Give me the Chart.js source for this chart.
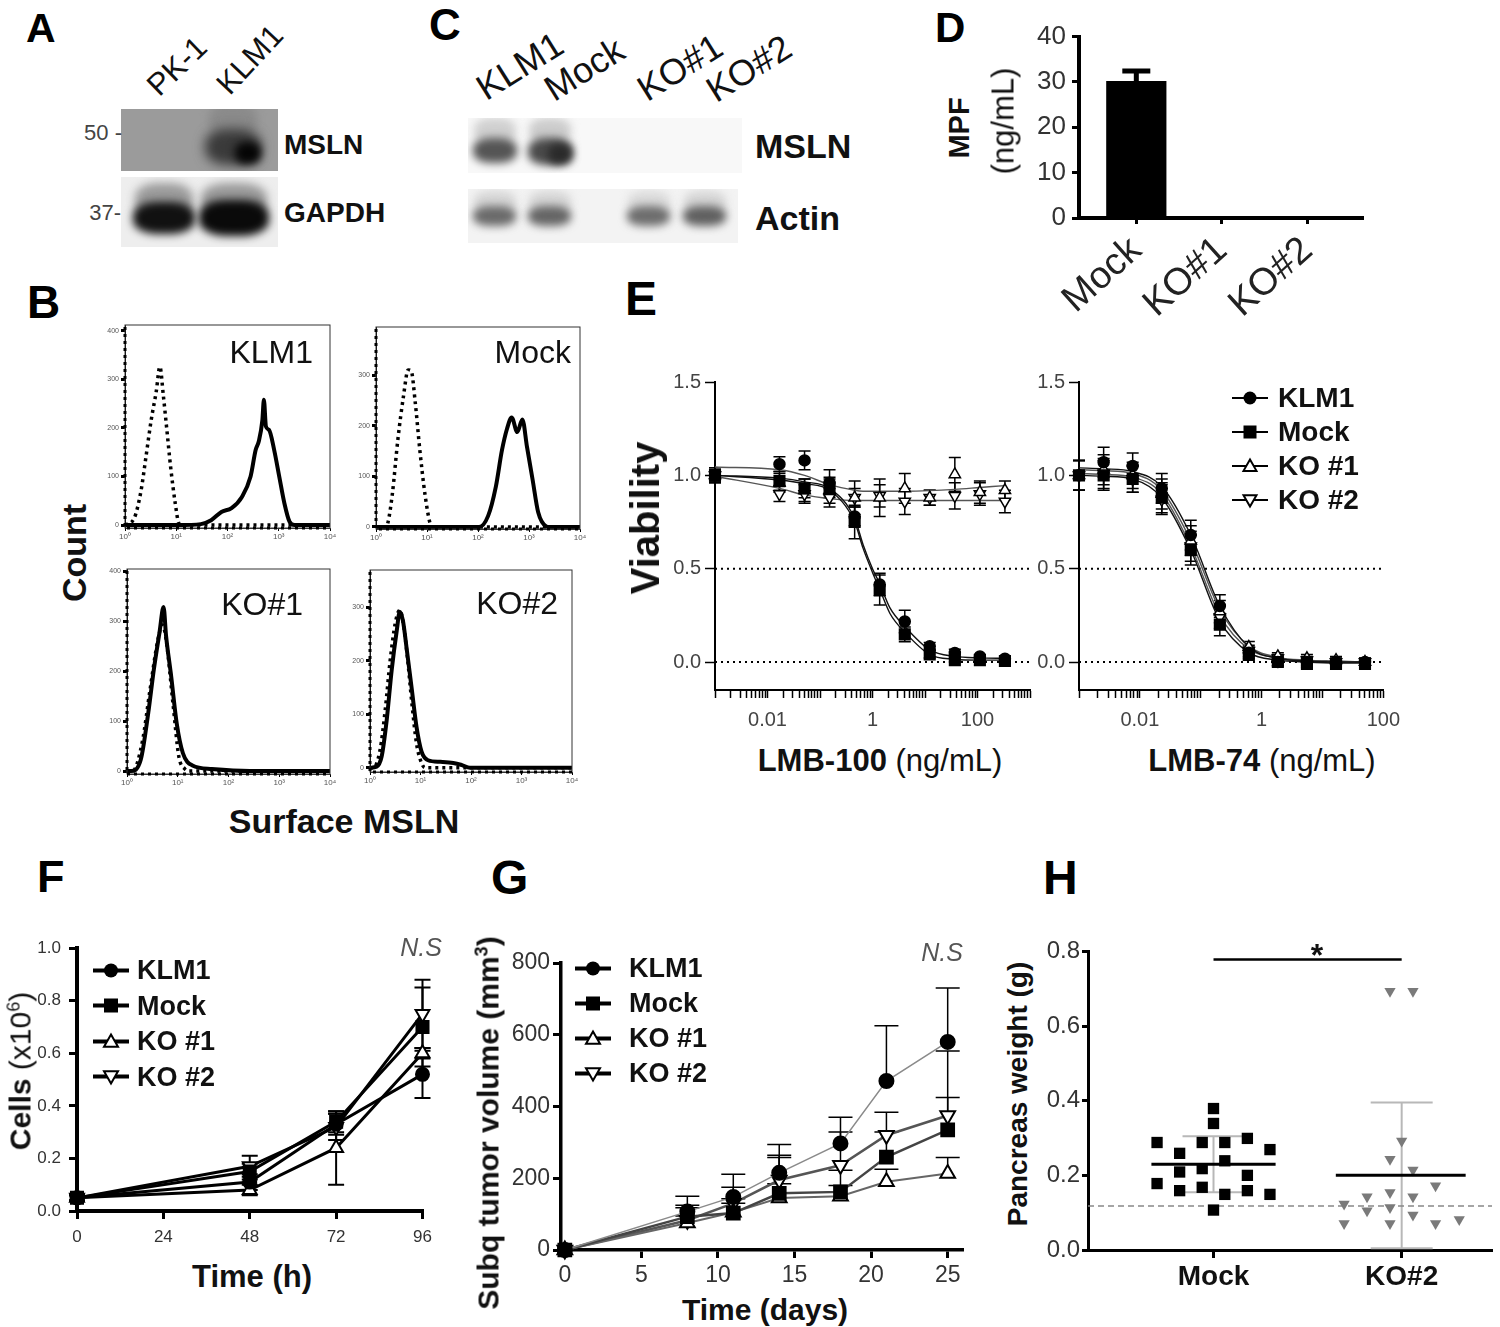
<!DOCTYPE html>
<html>
<head>
<meta charset="utf-8">
<script src="https://cdn.jsdelivr.net/npm/chart.js@4.4.1/dist/chart.umd.min.js"></script>
<style>
  body { margin: 0; background: #fff; }
  #fig { position: relative; width: 1500px; height: 1327px; overflow: hidden; background: #fff;
         font-family: 'Liberation Sans', Arial, Helvetica, sans-serif; color: #111; }
  .t { position: absolute; white-space: nowrap; line-height: 1; }
  .blot { position: absolute; overflow: hidden; }
  .band { position: absolute; border-radius: 40%; }
  canvas { position: absolute; }
</style>
</head>
<body>
<div id="fig">
  <!-- A: western blot -->
  <div class="blot" style="left:121px;top:109px;width:157px;height:62px;background:#9b9b9b">
    <div class="band" style="left:88px;top:-6px;width:48px;height:34px;background:#8a8a8a;filter:blur(5px)"></div>
    <div class="band" style="left:84px;top:20px;width:56px;height:36px;background:#3a3a3a;filter:blur(6px)"></div>
    <div class="band" style="left:114px;top:33px;width:26px;height:22px;background:#050505;filter:blur(4px)"></div>
  </div>
  <div class="blot" style="left:121px;top:177px;width:157px;height:70px;background:#eeeeee">
    <div class="band" style="left:14px;top:6px;width:58px;height:34px;background:#9a9a9a;filter:blur(5px)"></div>
    <div class="band" style="left:12px;top:25px;width:62px;height:32px;background:#111;filter:blur(4px)"></div>
    <div class="band" style="left:80px;top:6px;width:66px;height:34px;background:#999;filter:blur(5px)"></div>
    <div class="band" style="left:78px;top:23px;width:70px;height:36px;background:#0a0a0a;filter:blur(4px)"></div>
  </div>
  <!-- C: western blot -->
  <div class="blot" style="left:468px;top:118px;width:274px;height:55px;background:#f8f8f8">
    <div class="band" style="left:6px;top:0px;width:42px;height:26px;background:#d0d0d0;filter:blur(4px)"></div>
    <div class="band" style="left:5px;top:20px;width:44px;height:25px;background:#555;filter:blur(4px)"></div>
    <div class="band" style="left:61px;top:0px;width:42px;height:26px;background:#cccccc;filter:blur(4px)"></div>
    <div class="band" style="left:60px;top:20px;width:44px;height:27px;background:#4a4a4a;filter:blur(4px)"></div>
    <div class="band" style="left:80px;top:26px;width:24px;height:20px;background:#2a2a2a;filter:blur(4px)"></div>
  </div>
  <div class="blot" style="left:468px;top:189px;width:270px;height:54px;background:#f3f3f3">
    <div class="band" style="left:6px;top:2px;width:42px;height:22px;background:#d5d5d5;filter:blur(4px)"></div>
    <div class="band" style="left:5px;top:17px;width:43px;height:20px;background:#6a6a6a;filter:blur(4px)"></div>
    <div class="band" style="left:61px;top:2px;width:42px;height:22px;background:#d5d5d5;filter:blur(4px)"></div>
    <div class="band" style="left:60px;top:17px;width:43px;height:20px;background:#656565;filter:blur(4px)"></div>
    <div class="band" style="left:160px;top:2px;width:42px;height:22px;background:#dadada;filter:blur(4px)"></div>
    <div class="band" style="left:159px;top:17px;width:43px;height:20px;background:#6d6d6d;filter:blur(4px)"></div>
    <div class="band" style="left:216px;top:2px;width:42px;height:22px;background:#d5d5d5;filter:blur(4px)"></div>
    <div class="band" style="left:215px;top:17px;width:43px;height:20px;background:#606060;filter:blur(4px)"></div>
  </div>
</div>
<script>
// ---------- data ----------
const seriesNames = ['KLM1', 'Mock', 'KO #1', 'KO #2'];

// B: flow histograms (x = fluorescence intensity, y = count)
const flowTicks = [1, 10, 100, 1000, 10000];
const flowTickLabels = ['10⁰', '10¹', '10²', '10³', '10⁴'];
const klm1IsoX = [1, 1.51, 2.04, 2.57, 3.24, 4.07, 4.79, 5.62, 6.46, 7.76, 9.55, 11.2, 12.6, 10000];
const klm1IsoY = [0, 14, 69, 141, 216, 275, 326, 265, 203, 120, 45, 4, 0, 0];
const klm1StainX = [1, 10.7, 30.2, 47.9, 75.9, 120, 191, 282, 355, 407, 479, 513, 562, 646, 813, 1023, 1288, 1622, 2042, 10000];
const klm1StainY = [0, 0, 2, 10, 27, 35, 58, 100, 155, 172, 216, 258, 203, 196, 155, 100, 45, 7, 0, 0];
const mockIsoX = [1, 1.55, 1.7, 2.09, 2.69, 3.47, 4.27, 4.9, 5.89, 7.24, 9.12, 11.5, 12.9, 10000];
const mockIsoY = [0, 0, 7, 65, 174, 260, 311, 309, 246, 152, 65, 7, 0, 0];
const mockStainX = [1, 105, 158, 224, 295, 372, 457, 589, 741, 912, 1175, 1514, 2188, 2512, 10000];
const mockStainY = [0, 0, 22, 80, 152, 195, 217, 188, 213, 159, 94, 29, 1, 0, 0];
const ko1IsoX = [1, 1.29, 2.0, 2.82, 4.07, 5.01, 5.89, 8.13, 10.5, 13.8, 16.2, 10000];
const ko1IsoY = [0, 0, 58, 160, 263, 292, 263, 131, 29, 4, 0, 0];
const ko1StainX = [1, 1.2, 1.86, 2.63, 3.39, 4.37, 5.25, 5.89, 7.41, 9.55, 12.6, 19.5, 46.8, 263, 10000];
const ko1StainY = [0, 0, 22, 117, 204, 277, 328, 270, 190, 95, 36, 11, 4, 0, 0];
const ko2IsoX = [1, 1.17, 1.58, 2.0, 2.51, 3.16, 3.89, 4.57, 5.5, 6.76, 8.32, 10, 12.3, 10000];
const ko2IsoY = [0, 0, 33, 108, 201, 270, 295, 270, 207, 120, 46, 14, 0, 0];
const ko2StainX = [1, 1.35, 1.7, 2.14, 2.69, 3.39, 3.89, 4.47, 5.37, 6.76, 8.32, 10.5, 14.1, 24.5, 44.7, 66.1, 95.5, 10000];
const ko2StainY = [0, 2, 21, 89, 183, 257, 292, 276, 220, 145, 77, 30, 14, 11, 9, 5, 0, 0];

// D: MPF
const dCats = ['Mock', 'KO#1', 'KO#2'];
const dPos = [0, 1, 2];
const dMPF = [30.2, 0, 0];
const dMPFErr = [2.2, 0, 0];

// E: viability, LMB-100 (left) and LMB-74 (right)
const eTickLabels = ['0.01', '1', '100'];
const eLabelExp = [-2, 0, 2];
const eRefLevels = [0.5, 0];
const eLeftX = [0.001, 0.0169, 0.0508, 0.152, 0.457, 1.37, 4.12, 12.3, 37, 111, 333];
const eLeftKLM1 = [1.0, 1.06, 1.08, 0.96, 0.78, 0.415, 0.217, 0.084, 0.048, 0.03, 0.018];
const eLeftMock = [1.0, 0.97, 0.93, 0.93, 0.75, 0.386, 0.148, 0.041, 0.01, 0.01, 0.005];
const eLeftKO1 = [1.0, 0.96, 0.92, 0.92, 0.88, 0.88, 0.93, 0.88, 1.005, 0.91, 0.92];
const eLeftKO2 = [1.0, 0.9, 0.9, 0.88, 0.88, 0.89, 0.86, 0.88, 0.89, 0.9, 0.86];
const eLeftErrKLM1 = [0.04, 0.04, 0.05, 0.07, 0.05, 0.06, 0.06, 0.02, 0.02, 0.01, 0.01];
const eLeftErrMock = [0.04, 0.05, 0.05, 0.05, 0.09, 0.08, 0.04, 0.02, 0.01, 0.01, 0.01];
const eLeftErrKO1 = [0.03, 0.05, 0.06, 0.07, 0.09, 0.1, 0.08, 0.04, 0.09, 0.06, 0.05];
const eLeftErrKO2 = [0.03, 0.04, 0.05, 0.05, 0.05, 0.06, 0.07, 0.04, 0.07, 0.06, 0.06];
const eLeftCurveX = [0.001, 0.0169, 0.0508, 0.152, 0.457, 0.66, 1.0, 1.37, 2.15, 4.12, 12.3, 37, 111, 333];
const eLeftCurveKLM1 = [1.0, 0.985, 0.965, 0.93, 0.77, 0.63, 0.5, 0.42, 0.29, 0.19, 0.065, 0.03, 0.022, 0.02];
const eLeftCurveMock = [1.0, 0.975, 0.955, 0.92, 0.75, 0.61, 0.48, 0.39, 0.26, 0.16, 0.04, 0.015, 0.01, 0.01];
const eLeftCurveKO1 = [1.045, 1.03, 1.0, 0.95, 0.92, 0.915, 0.915, 0.915, 0.915, 0.915, 0.918, 0.925, 0.935, 0.945];
const eLeftCurveKO2 = [0.995, 0.93, 0.895, 0.875, 0.865, 0.865, 0.865, 0.865, 0.865, 0.865, 0.865, 0.865, 0.865, 0.865];

const eRightX = [0.001, 0.00254, 0.00762, 0.0229, 0.0686, 0.206, 0.617, 1.85, 5.56, 16.7, 50];
const eRightKLM1 = [1.0, 1.07, 1.05, 0.93, 0.68, 0.3, 0.05, 0.0, 0.0, 0.0, 0.0];
const eRightMock = [1.0, 1.0, 0.98, 0.88, 0.6, 0.2, 0.04, 0.0, -0.01, -0.01, -0.01];
const eRightKO1 = [1.0, 1.03, 1.0, 0.9, 0.65, 0.27, 0.08, 0.03, 0.02, 0.01, 0.0];
const eRightKO2 = [1.0, 1.01, 0.98, 0.87, 0.62, 0.24, 0.06, 0.02, 0.01, 0.0, 0.0];
const eRightErr = [0.08, 0.08, 0.07, 0.08, 0.08, 0.06, 0.03, 0.02, 0.02, 0.02, 0.02];
const eRightCurveKLM1 = [1.04, 1.035, 1.02, 0.94, 0.68, 0.3, 0.08, 0.02, 0.005, 0.0, 0.0];
const eRightCurveMock = [1.0, 0.995, 0.98, 0.88, 0.6, 0.22, 0.05, 0.01, 0.0, -0.005, -0.005];
const eRightCurveKO1 = [1.03, 1.025, 1.01, 0.92, 0.65, 0.28, 0.085, 0.025, 0.01, 0.005, 0.0];
const eRightCurveKO2 = [1.01, 1.005, 0.99, 0.9, 0.62, 0.25, 0.07, 0.02, 0.005, 0.0, 0.0];

// F: cell growth
const fX = [0, 48, 72, 96];
const fTicks = [0, 24, 48, 72, 96];
const fKLM1 = [0.05, 0.11, 0.33, 0.52];
const fMock = [0.05, 0.15, 0.34, 0.70];
const fKO1 = [0.05, 0.08, 0.24, 0.60];
const fKO2 = [0.05, 0.17, 0.32, 0.75];
const fErrKLM1 = [0.01, 0.03, 0.04, 0.09];
const fErrMock = [0.01, 0.03, 0.04, 0.15];
const fErrKO1 = [0.01, 0.02, 0.14, 0.02];
const fErrKO2 = [0.01, 0.04, 0.05, 0.13];

// G: subcutaneous tumor volume
const gX = [0, 8, 11, 14, 18, 21, 25];
const gTicks = [0, 5, 10, 15, 20, 25];
const gKLM1 = [0, 107, 148, 215, 297, 471, 580];
const gMock = [0, 93, 103, 158, 162, 259, 335];
const gKO1 = [0, 75, 105, 145, 150, 190, 213];
const gKO2 = [0, 83, 130, 195, 236, 320, 375];
const gErrKLM1 = [0, 43, 63, 79, 73, 154, 150];
const gErrMock = [0, 25, 40, 100, 60, 70, 90];
const gErrKO1 = [0, 20, 25, 40, 30, 35, 45];
const gErrKO2 = [0, 42, 45, 69, 93, 64, 180];

// H: pancreas weight
const hCats = ['Mock', 'KO#2'];
const hMockX = [0.70, 0.70, 0.82, 0.82, 0.82, 0.94, 0.94, 0.94, 1.0, 1.0, 1.0, 1.06, 1.06, 1.06, 1.18, 1.18, 1.18, 1.30, 1.30];
const hMockY = [0.288, 0.178, 0.259, 0.209, 0.159, 0.288, 0.218, 0.168, 0.379, 0.339, 0.107, 0.288, 0.239, 0.149, 0.299, 0.2, 0.159, 0.269, 0.149];
const hKOX = [1.938, 2.06, 2.0, 1.938, 2.06, 2.18, 1.816, 1.938, 2.06, 1.694, 1.816, 1.938, 2.06, 1.694, 1.938, 2.18, 2.306];
const hKOY = [0.693, 0.693, 0.292, 0.243, 0.214, 0.172, 0.143, 0.154, 0.143, 0.123, 0.105, 0.114, 0.094, 0.071, 0.071, 0.071, 0.082];
const hMean = [0.23, 0.2];
const hSD = [0.075, 0.195];
const hCutoff = 0.118;
const hSigY = 0.778;

// ---------- helpers ----------
const fig = document.getElementById('fig');
Chart.defaults.font.family = "'Liberation Sans', Arial, Helvetica, sans-serif";
Chart.defaults.color = '#333';
Chart.defaults.animation = false;
Chart.defaults.responsive = false;
Chart.defaults.plugins.legend.display = false;
Chart.defaults.plugins.tooltip.enabled = false;

const pts = (xs, ys) => xs.map((x, i) => ({ x, y: ys[i] }));
const fixed = size => s => { if (s.isHorizontal()) s.height = size; else s.width = size; };
const setTicks = vals => s => { s.ticks = vals.map(v => ({ value: v })); };

const marks = [
  { ps: 'circle', rot: 0, fill: '#000' },
  { ps: 'rect', rot: 0, fill: '#000' },
  { ps: 'triangle', rot: 0, fill: '#fff' },
  { ps: 'triangle', rot: 180, fill: '#fff' }
];

function place(left, top, width, height) {
  const c = document.createElement('canvas');
  c.width = width; c.height = height;
  c.style.left = left + 'px'; c.style.top = top + 'px';
  c.style.width = width + 'px'; c.style.height = height + 'px';
  fig.appendChild(c);
  return c;
}

function axis(o) {
  return {
    type: o.type || 'linear',
    min: o.min, max: o.max,
    offset: false,
    afterFit: fixed(o.size),
    afterBuildTicks: o.ticks ? setTicks(o.ticks) : undefined,
    ticks: {
      autoSkip: false, maxRotation: o.rot || 0, minRotation: o.rot || 0,
      padding: o.pad ?? 4, color: o.color || '#333',
      font: { size: o.font, weight: o.bold ? 'bold' : 'normal' },
      callback: o.fmt || (v => v)
    },
    grid: { display: true, offset: false, drawOnChartArea: false, drawTicks: true,
            tickLength: o.tickLen ?? 8, tickWidth: o.tickW ?? 2, tickColor: '#000' },
    border: { display: true, color: o.borderColor || '#000', width: o.border ?? 2 }
  };
}

// vertical error bars drawn through the chart scales
const errorBars = {
  id: 'errorBars',
  beforeDatasetsDraw(chart) {
    const ctx = chart.ctx;
    chart.data.datasets.forEach((ds, i) => {
      if (!ds.errors) return;
      const meta = chart.getDatasetMeta(i);
      const xs = chart.scales[meta.xAxisID], ys = chart.scales[meta.yAxisID];
      ctx.save();
      ctx.strokeStyle = ds.errorColor || '#000';
      ctx.lineWidth = ds.errorWidth || 1.5;
      ds.data.forEach((p, j) => {
        const e = ds.errors[j];
        if (!e) return;
        const x = xs.getPixelForValue(p.x);
        const top = ys.getPixelForValue(p.y + e);
        const bot = ys.getPixelForValue(ds.errorUp ? p.y : p.y - e);
        const w = ds.capWidth || 6;
        ctx.beginPath();
        ctx.moveTo(x, top); ctx.lineTo(x, bot);
        ctx.moveTo(x - w, top); ctx.lineTo(x + w, top);
        if (!ds.errorUp) { ctx.moveTo(x - w, bot); ctx.lineTo(x + w, bot); }
        ctx.stroke();
      });
      ctx.restore();
    });
  }
};

// thin box around the flow histograms, with the dotted left edge of the isotype overlay
const frame = {
  id: 'frame',
  afterDraw(chart) {
    const { ctx, chartArea: a } = chart;
    ctx.save();
    ctx.strokeStyle = '#333';
    ctx.lineWidth = 1;
    ctx.strokeRect(a.left, a.top, a.right - a.left, a.bottom - a.top);
    ctx.strokeStyle = '#000';
    ctx.lineWidth = 3;
    ctx.setLineDash([3, 4]);
    ctx.beginPath();
    ctx.moveTo(a.left, a.top + 2);
    ctx.lineTo(a.left, a.bottom);
    ctx.lineTo(a.right, a.bottom);
    ctx.stroke();
    ctx.restore();
  }
};

function txt(html, x, y, o = {}) {
  const d = document.createElement('div');
  d.className = 't';
  d.innerHTML = html;
  d.style.fontSize = (o.size || 20) + 'px';
  d.style.fontWeight = o.bold ? 'bold' : 'normal';
  if (o.italic) d.style.fontStyle = 'italic';
  d.style.color = o.color || '#111';
  d.style.left = x + 'px';
  d.style.top = y + 'px';
  const a = o.anchor || 'center';
  let tf = 'translate(-50%,-50%)';
  if (a === 'left') tf = 'translate(0,-50%)';
  if (a === 'right') tf = 'translate(-100%,-50%)';
  if (a === 'start') { tf = 'translate(0,-50%)'; d.style.transformOrigin = '0 50%'; }
  if (o.rotate) tf += ` rotate(${o.rotate}deg)`;
  d.style.transform = tf;
  fig.appendChild(d);
  return d;
}

function letter(ch, x, capTop, size) {
  txt(ch, x, capTop - 0.13 * size, { size, bold: true, color: '#000' }).style.transform = 'none';
}

function markerSVG(i, lineW, s) {
  const c = 18, m = 13;
  let shape = '';
  if (i === 0) shape = `<circle cx="${c}" cy="${m}" r="${s}" fill="#000"/>`;
  if (i === 1) shape = `<rect x="${c - s}" y="${m - s}" width="${2 * s}" height="${2 * s}" fill="#000"/>`;
  if (i === 2) shape = `<polygon points="${c},${m - s} ${c + s},${m + 0.75 * s} ${c - s},${m + 0.75 * s}" fill="#fff" stroke="#000" stroke-width="2"/>`;
  if (i === 3) shape = `<polygon points="${c},${m + s} ${c + s},${m - 0.75 * s} ${c - s},${m - 0.75 * s}" fill="#fff" stroke="#000" stroke-width="2"/>`;
  return `<svg width="36" height="26" style="display:block"><line x1="0" y1="${m}" x2="36" y2="${m}" stroke="#000" stroke-width="${lineW}"/>${shape}</svg>`;
}

function legend(x, y0, dy, lineW, s, fontSize, gap) {
  seriesNames.forEach((name, i) => {
    const row = txt(markerSVG(i, lineW, s) + `<span>${name}</span>`, x, y0 + i * dy,
                    { size: fontSize, bold: true, anchor: 'left', color: '#111' });
    row.style.display = 'flex';
    row.style.alignItems = 'center';
    row.style.gap = gap + 'px';
  });
}

// ---------- B: flow histograms ----------
function flowChart(box, yMin, yMax, isoX, isoY, stainX, stainY) {
  const [x0, y0, x1, y1] = box;
  const c = place(x0 - 30, y0 - 10, x1 - x0 + 38, y1 - y0 + 28);
  new Chart(c, {
    type: 'line',
    data: { datasets: [
      { data: pts(stainX, stainY), borderColor: '#000', borderWidth: 4, pointRadius: 0,
        cubicInterpolationMode: 'monotone', clip: false },
      { data: pts(isoX, isoY), borderColor: '#000', borderWidth: 3.5, borderDash: [3, 4], pointRadius: 0,
        cubicInterpolationMode: 'monotone', clip: false }
    ] },
    options: {
      layout: { padding: { top: 10, right: 8 } },
      scales: {
        x: axis({ type: 'logarithmic', min: 1, max: 10000, size: 18, ticks: flowTicks,
                  fmt: v => flowTickLabels[flowTicks.indexOf(v)] ?? '', font: 8, color: '#555',
                  pad: 1, tickLen: 3, tickW: 1, border: 1, borderColor: '#333' }),
        y: axis({ min: yMin, max: yMax, size: 30, ticks: [0, 100, 200, 300, 400].filter(v => v <= yMax),
                  font: 7, color: '#555', pad: 2, tickLen: 4, tickW: 3, border: 1 })
      }
    },
    plugins: [frame]
  });
}
flowChart([125, 325, 330, 528], -6, 412, klm1IsoX, klm1IsoY, klm1StainX, klm1StainY);
flowChart([376, 327, 580, 529], -4, 396, mockIsoX, mockIsoY, mockStainX, mockStainY);
flowChart([127, 569, 330, 774], -6, 404, ko1IsoX, ko1IsoY, ko1StainX, ko1StainY);
flowChart([370, 570, 572, 772], -8, 370, ko2IsoX, ko2IsoY, ko2StainX, ko2StainY);

// ---------- D: MPF bar ----------
new Chart(place(1020, 15, 360, 315), {
  type: 'bar',
  data: { datasets: [{ data: pts(dPos, dMPF), backgroundColor: '#000', barPercentage: 0.88,
                       categoryPercentage: 0.8, errors: dMPFErr, errorUp: true, capWidth: 14, errorWidth: 5 }] },
  options: {
    layout: { padding: { top: 14, right: 17 } },
    scales: {
      x: axis({ min: -0.67, max: 2.65, size: 112, ticks: dPos, fmt: (v, i) => dCats[i], font: 38,
                rot: 42, color: '#222', border: 4, tickLen: 6, tickW: 3, pad: 4 }),
      y: axis({ min: 0, max: 40, size: 59, ticks: [0, 10, 20, 30, 40], font: 26, color: '#333',
                border: 4, tickLen: 7, tickW: 3, pad: 6 })
    }
  },
  plugins: [errorBars]
});

// ---------- E: dose response ----------
function logTicks(min, max) {
  const t = [];
  for (let d = -3; d <= 3; d++) {
    for (let m = 1; m <= 9; m++) {
      const v = m * Math.pow(10, d);
      if (v >= min * 0.999 && v <= max * 1.001) t.push(v);
    }
  }
  return t;
}
function eTickText(v) {
  const lg = Math.log10(v);
  const r = Math.round(lg);
  if (Math.abs(lg - r) < 1e-6 && eLabelExp.includes(r)) return eTickLabels[eLabelExp.indexOf(r)];
  return '';
}
const eRadius = [5.5, 7.5, 6.5, 6.5];
function doseChart(canvas, xMax, rightPad, xs, series, errs, cx, curves) {
  const ds = [];
  series.forEach((y, i) => ds.push({
    data: pts(xs, y), showLine: false, pointStyle: marks[i].ps, rotation: marks[i].rot,
    pointRadius: eRadius[i], pointBackgroundColor: marks[i].fill, pointBorderColor: '#000',
    pointBorderWidth: 1.5, errors: errs[i], capWidth: 6, errorWidth: 1.5, clip: false
  }));
  curves.forEach((y, i) => ds.push({
    data: pts(cx, y), borderColor: i < 2 ? '#111' : '#555', borderWidth: 1.4, pointRadius: 0,
    cubicInterpolationMode: 'monotone', clip: false
  }));
  eRefLevels.forEach(v => ds.push({
    data: [{ x: 0.001, y: v }, { x: xMax, y: v }], borderColor: '#000', borderWidth: 2,
    borderDash: [2, 4], pointRadius: 0, clip: false
  }));
  new Chart(canvas, {
    type: 'line',
    data: { datasets: ds },
    options: {
      layout: { padding: { top: 14, right: rightPad } },
      scales: {
        x: axis({ type: 'logarithmic', min: 0.001, max: xMax, size: 38, ticks: logTicks(0.001, xMax),
                  fmt: v => eTickText(v), font: 20, color: '#444', border: 2, tickLen: 8, tickW: 1.5, pad: 10 }),
        y: axis({ min: -0.15, max: 1.5, size: 65, ticks: [0, 0.5, 1, 1.5], fmt: v => v.toFixed(1),
                  font: 20, color: '#444', border: 2, tickLen: 10, tickW: 1.5, pad: 4 })
      }
    },
    plugins: [errorBars]
  });
}
doseChart(place(650, 366, 392, 362), 1000, 12, eLeftX,
  [eLeftKLM1, eLeftMock, eLeftKO1, eLeftKO2],
  [eLeftErrKLM1, eLeftErrMock, eLeftErrKO1, eLeftErrKO2],
  eLeftCurveX, [eLeftCurveKLM1, eLeftCurveMock, eLeftCurveKO1, eLeftCurveKO2]);
doseChart(place(1014, 366, 396, 362), 100, 15, eRightX,
  [eRightKLM1, eRightMock, eRightKO1, eRightKO2],
  [eRightErr, eRightErr, eRightErr, eRightErr],
  eRightX, [eRightCurveKLM1, eRightCurveMock, eRightCurveKO1, eRightCurveKO2]);

// ---------- F: cell growth ----------
const fRadius = [6.5, 8.5, 8, 8];
new Chart(place(20, 930, 420, 321), {
  type: 'line',
  data: { datasets: [fKLM1, fMock, fKO1, fKO2].map((y, i) => ({
    data: pts(fX, y), borderColor: '#000', borderWidth: 3, tension: 0,
    pointStyle: marks[i].ps, rotation: marks[i].rot, pointRadius: fRadius[i],
    pointBackgroundColor: marks[i].fill, pointBorderColor: '#000', pointBorderWidth: 2,
    errors: [fErrKLM1, fErrMock, fErrKO1, fErrKO2][i], capWidth: 8, errorWidth: 2, clip: false
  })) },
  options: {
    layout: { padding: { top: 16, right: 16 } },
    scales: {
      x: axis({ min: 0, max: 96.3, size: 40, ticks: fTicks, font: 17, border: 4, tickLen: 8, tickW: 3, pad: 8 }),
      y: axis({ min: 0, max: 1, size: 57, ticks: [0, 0.2, 0.4, 0.6, 0.8, 1], fmt: v => v.toFixed(1),
                font: 17, border: 4, tickLen: 8, tickW: 3, pad: 8 })
    }
  },
  plugins: [errorBars]
});

// ---------- G: tumor volume ----------
const gRadius = [7, 9, 8.5, 8.5];
const gLineColor = ['#8a8a8a', '#444', '#666', '#555'];
const gLineWidth = [1.5, 2.5, 2, 2.5];
new Chart(place(500, 945, 480, 347), {
  type: 'line',
  data: { datasets: [gKLM1, gMock, gKO1, gKO2].map((y, i) => ({
    data: pts(gX, y), borderColor: gLineColor[i], borderWidth: gLineWidth[i], tension: 0,
    pointStyle: marks[i].ps, rotation: marks[i].rot, pointRadius: gRadius[i],
    pointBackgroundColor: marks[i].fill, pointBorderColor: '#000', pointBorderWidth: 2,
    errors: [gErrKLM1, gErrMock, gErrKO1, gErrKO2][i], errorUp: true, capWidth: 12, errorWidth: 1.5, clip: false
  })) },
  options: {
    layout: { padding: { top: 18, right: 17 } },
    scales: {
      x: axis({ min: -0.25, max: 26, size: 42, ticks: gTicks, font: 23, border: 3.5, tickLen: 8, tickW: 3, pad: 4 }),
      y: axis({ min: 0, max: 800, size: 61, ticks: [0, 200, 400, 600, 800], font: 23,
                border: 3.5, tickLen: 8, tickW: 3, pad: 3 })
    }
  },
  plugins: [errorBars]
});

// ---------- H: pancreas weight ----------
new Chart(place(1038, 935, 462, 360), {
  type: 'line',
  data: { datasets: [
    { data: [{ x: 0.67, y: hMean[0] }, { x: 1.33, y: hMean[0] }], borderColor: '#000', borderWidth: 3, pointRadius: 0 },
    { data: [{ x: 1.65, y: hMean[1] }, { x: 2.34, y: hMean[1] }], borderColor: '#000', borderWidth: 3, pointRadius: 0 },
    { data: pts(hMockX, hMockY), showLine: false, pointStyle: 'rect', pointRadius: 8,
      pointBackgroundColor: '#000', pointBorderWidth: 0, clip: false },
    { data: pts(hKOX, hKOY), showLine: false, pointStyle: 'triangle', rotation: 180, pointRadius: 6.5,
      pointBackgroundColor: '#7a7a7a', pointBorderColor: '#7a7a7a', pointBorderWidth: 0, clip: false },
    { data: [{ x: 1, y: hMean[0] }, { x: 2, y: hMean[1] }], showLine: false, pointRadius: 0,
      errors: hSD, errorColor: '#b8b8b8', errorWidth: 2, capWidth: 31 },
    { data: [{ x: 0.333, y: hCutoff }, { x: 2.48, y: hCutoff }], borderColor: '#888', borderWidth: 1.5,
      borderDash: [6, 4], pointRadius: 0 },
    { data: [{ x: 1, y: hSigY }, { x: 2, y: hSigY }], borderColor: '#000', borderWidth: 2.5, pointRadius: 0 }
  ] },
  options: {
    layout: { padding: { top: 16, right: 0 } },
    scales: {
      x: axis({ min: 0.333, max: 2.48, size: 45, ticks: [1, 2], fmt: (v, i) => hCats[i], font: 28, bold: true,
                color: '#111', border: 3, tickLen: 8, tickW: 3, pad: 2 }),
      y: axis({ min: 0, max: 0.8, size: 50, ticks: [0, 0.2, 0.4, 0.6, 0.8], fmt: v => v.toFixed(1),
                font: 24, border: 3, tickLen: 6, tickW: 3, pad: 2 })
    }
  },
  plugins: [errorBars]
});

// ---------- text ----------
letter('A', 26, 13, 41);
letter('B', 27, 285, 46);
letter('C', 429, 9, 44);
letter('D', 935, 12, 42);
letter('E', 625, 281, 48);
letter('F', 37, 860, 45);
letter('G', 491, 860, 48);
letter('H', 1043, 860, 48);

// A
txt('PK-1', 152, 90, { size: 31, anchor: 'start', rotate: -44 });
txt('KLM1', 222, 89, { size: 31, anchor: 'start', rotate: -47 });
txt('50 -', 122, 133, { size: 22, anchor: 'right', color: '#444' });
txt('37-', 121, 213, { size: 22, anchor: 'right', color: '#444' });
txt('MSLN', 284, 145, { size: 28, bold: true, anchor: 'left' });
txt('GAPDH', 284, 213, { size: 28, bold: true, anchor: 'left' });

// B
txt('KLM1', 313, 352, { size: 32, anchor: 'right' });
txt('Mock', 571, 352, { size: 32, anchor: 'right' });
txt('KO#1', 303, 604, { size: 32, anchor: 'right' });
txt('KO#2', 558, 603, { size: 32, anchor: 'right' });
txt('Count', 74, 553, { size: 34, bold: true, rotate: -90 });
txt('Surface MSLN', 344, 821, { size: 34, bold: true });

// C
txt('KLM1', 480, 91, { size: 36, anchor: 'start', rotate: -32 });
txt('Mock', 548, 92, { size: 36, anchor: 'start', rotate: -32 });
txt('KO#1', 641, 92, { size: 36, anchor: 'start', rotate: -32 });
txt('KO#2', 710, 93, { size: 36, anchor: 'start', rotate: -32 });
txt('MSLN', 755, 146, { size: 34, bold: true, anchor: 'left' });
txt('Actin', 755, 218, { size: 34, bold: true, anchor: 'left' });

// D
txt('MPF', 959, 128, { size: 29, bold: true, rotate: -90 });
txt('(ng/mL)', 1003, 121, { size: 31, rotate: -90 });

// E
txt('Viability', 645, 518, { size: 40, bold: true, rotate: -90 });
txt('<b>LMB-100</b> (ng/mL)', 880, 760, { size: 31 });
txt('<b>LMB-74</b> (ng/mL)', 1262, 760, { size: 31 });
legend(1232, 398, 34, 2, 6.5, 28, 10);

// F
txt('<b>Cells</b> (x10<sup style="font-size:60%">6</sup>)', 20, 1071, { size: 30, rotate: -90 });
txt('Time (h)', 252, 1276, { size: 31, bold: true });
txt('N.S', 421, 947, { size: 25, italic: true, color: '#555' });
legend(93, 970, 35.5, 4, 7, 27, 8);

// G
txt('Subq tumor volume (mm<sup style="font-size:60%">3</sup>)', 488, 1123, { size: 30, bold: true, rotate: -90 });
txt('Time (days)', 765, 1310, { size: 30, bold: true });
txt('N.S', 942, 952, { size: 25, italic: true, color: '#555' });
legend(575, 968, 35, 4, 7, 27, 18);

// H
txt('Pancreas weight (g)', 1018, 1094, { size: 28, bold: true, rotate: -90 });
txt('*', 1317, 955, { size: 32, bold: true });
</script>
</body>
</html>
